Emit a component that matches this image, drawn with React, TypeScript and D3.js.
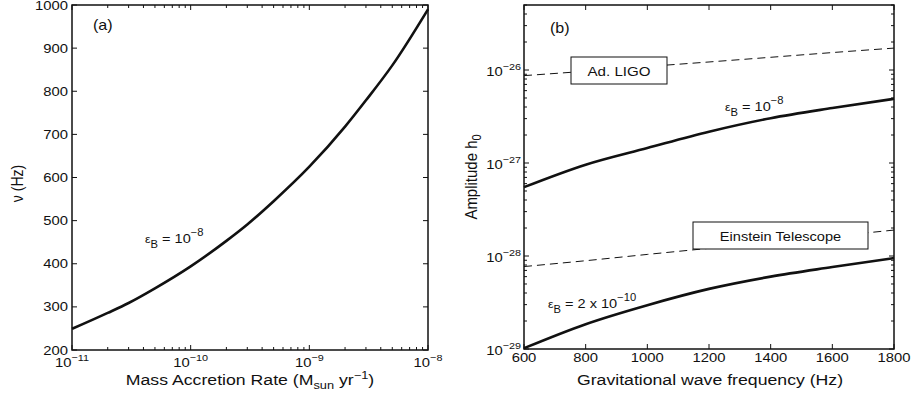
import type { ReactNode } from 'react'
import * as d3 from 'd3'

// (a) spin frequency vs mass accretion rate, eps_B = 1e-8
const massRate = [1e-11, 2e-11, 3e-11, 5e-11, 1e-10, 2e-10, 3e-10, 5e-10, 1e-9, 2e-9, 3e-9, 5e-9, 1e-8]
const spinFreq = [249, 286, 309, 343, 394, 453, 491, 545, 625, 718, 779, 860, 990]

// (b) amplitude vs GW frequency
const gwFreq = [600, 800, 1000, 1200, 1400, 1600, 1800]
const hHigh = [5.5e-28, 9.6e-28, 1.45e-27, 2.17e-27, 3.03e-27, 3.9e-27, 4.9e-27] // eps_B = 1e-8
const hLow = [1.02e-29, 1.85e-29, 2.96e-29, 4.43e-29, 6.0e-29, 7.6e-29, 9.5e-29] // eps_B = 2e-10
const ligo = [8.7e-27, 9.7e-27, 1.09e-26, 1.22e-26, 1.37e-26, 1.54e-26, 1.72e-26]
const einstein = [7.7e-29, 8.9e-29, 1.04e-28, 1.21e-28, 1.41e-28, 1.63e-28, 1.9e-28]

const leftXTicks = [-11, -10, -9, -8]
const leftYTicks = [200, 300, 400, 500, 600, 700, 800, 900, 1000]
const rightXTicks = [600, 800, 1000, 1200, 1400, 1600, 1800]
const rightYTicks = [-29, -28, -27, -26]

const FONT = '"Liberation Sans", Arial, Helvetica, sans-serif'
const INK = '#111'
const A = { l: 72, r: 428, t: 5, b: 350 }
const B = { l: 524, r: 894, t: 5, b: 349 }

// the original figure is a bit stretched sideways, so text gets a horizontal scale
function T({ x, y, sx = 1.14, size = 13, anchor = 'start', rot = false, children }:
  { x: number; y: number; sx?: number; size?: number; anchor?: string; rot?: boolean; children: ReactNode }) {
  return (
    <text
      transform={`translate(${x},${y}) scale(${sx},1)${rot ? ' rotate(-90)' : ''}`}
      textAnchor={anchor as any}
      fontSize={size}
      fill={INK}
    >
      {children}
    </text>
  )
}

function Pow({ x, y, exp, anchor = 'middle' }: { x: number; y: number; exp: string; anchor?: string }) {
  return (
    <T x={x} y={y} anchor={anchor}>
      10<tspan dy={-6} fontSize={9.5}>{exp}</tspan>
    </T>
  )
}

function Eps({ x, y, rest, exp }: { x: number; y: number; rest: string; exp: string }) {
  return (
    <T x={x} y={y} size={11} sx={1.12}>
      ε<tspan dy={5} fontSize={10}>B</tspan>
      <tspan dy={-5} fontSize={13}>{rest}</tspan>
      <tspan dy={-7} fontSize={10}>{exp}</tspan>
    </T>
  )
}

export default function App() {
  const xa = d3.scaleLog().domain([1e-11, 1e-8]).range([A.l, A.r])
  const ya = d3.scaleLinear().domain([200, 1000]).range([A.b, A.t])
  const xb = d3.scaleLinear().domain([600, 1800]).range([B.l, B.r])
  const yb = d3.scaleLog().domain([1e-29, 5e-26]).range([B.b, B.t])

  const lineA = d3.line<number>().x((_, i) => xa(massRate[i])).y(d => ya(d)).curve(d3.curveMonotoneX)
  const lineB = d3.line<number>().x((_, i) => xb(gwFreq[i])).y(d => yb(d)).curve(d3.curveMonotoneX)

  // minor log ticks
  const minorA: number[] = []
  for (let e = -11; e < -8; e++) for (let k = 2; k <= 9; k++) minorA.push(k * Math.pow(10, e))
  const minorB: number[] = []
  for (let e = -29; e <= -26; e++) for (let k = 2; k <= 9; k++) {
    const v = k * Math.pow(10, e)
    if (v <= 5e-26) minorB.push(v)
  }

  const major = 5
  const minor = 3

  return (
    <svg width={914} height={398} style={{ position: 'absolute', left: 0, top: 0, background: '#fff' }} fontFamily={FONT}>
      {/* ── panel (a) ── */}
      <g stroke={INK} strokeWidth={1}>
        {leftXTicks.map(e => (
          <g key={'ax' + e}>
            <line x1={xa(Math.pow(10, e))} x2={xa(Math.pow(10, e))} y1={A.b} y2={A.b - major} />
            <line x1={xa(Math.pow(10, e))} x2={xa(Math.pow(10, e))} y1={A.t} y2={A.t + major} />
          </g>
        ))}
        {minorA.map((v, i) => (
          <g key={'am' + i}>
            <line x1={xa(v)} x2={xa(v)} y1={A.b} y2={A.b - minor} />
            <line x1={xa(v)} x2={xa(v)} y1={A.t} y2={A.t + minor} />
          </g>
        ))}
        {leftYTicks.map(v => (
          <g key={'ay' + v}>
            <line x1={A.l} x2={A.l + major} y1={ya(v)} y2={ya(v)} />
            <line x1={A.r} x2={A.r - major} y1={ya(v)} y2={ya(v)} />
          </g>
        ))}
      </g>
      <path d={lineA(spinFreq) ?? ''} fill="none" stroke={INK} strokeWidth={2.6} />
      <rect x={A.l} y={A.t} width={A.r - A.l} height={A.b - A.t} fill="none" stroke={INK} strokeWidth={1.5} />
      {leftYTicks.map(v => (
        <T key={'ayl' + v} x={A.l - 4} y={ya(v) + 4.5} anchor="end">{v}</T>
      ))}
      {leftXTicks.map(e => (
        <Pow key={'axl' + e} x={xa(Math.pow(10, e))} y={367} exp={'−' + Math.abs(e)} />
      ))}
      <T x={250} y={385} size={14.5} sx={1.22} anchor="middle">
        Mass Accretion Rate (M<tspan dy={4} fontSize={10.5}>sun</tspan>
        <tspan dy={-4}> yr</tspan>
        <tspan dy={-6} fontSize={10.5}>−1</tspan>
        <tspan dy={6}>)</tspan>
      </T>
      <T x={23} y={(A.t + A.b) / 2 + 6} size={14} sx={1.15} anchor="middle" rot>ν (Hz)</T>
      <T x={93} y={30} size={14} sx={1.15}>(a)</T>
      <Eps x={145} y={243} rest=" = 10" exp="−8" />

      {/* ── panel (b) ── */}
      <g stroke={INK} strokeWidth={1}>
        {rightXTicks.map(v => (
          <g key={'bx' + v}>
            <line x1={xb(v)} x2={xb(v)} y1={B.b} y2={B.b - major} />
            <line x1={xb(v)} x2={xb(v)} y1={B.t} y2={B.t + major} />
          </g>
        ))}
        {rightYTicks.map(e => (
          <g key={'by' + e}>
            <line x1={B.l} x2={B.l + major} y1={yb(Math.pow(10, e))} y2={yb(Math.pow(10, e))} />
            <line x1={B.r} x2={B.r - major} y1={yb(Math.pow(10, e))} y2={yb(Math.pow(10, e))} />
          </g>
        ))}
        {minorB.map((v, i) => (
          <g key={'bm' + i}>
            <line x1={B.l} x2={B.l + minor} y1={yb(v)} y2={yb(v)} />
            <line x1={B.r} x2={B.r - minor} y1={yb(v)} y2={yb(v)} />
          </g>
        ))}
      </g>
      <path d={lineB(ligo) ?? ''} fill="none" stroke={INK} strokeWidth={1} strokeDasharray="8 5" />
      <path d={lineB(einstein) ?? ''} fill="none" stroke={INK} strokeWidth={1} strokeDasharray="8 5" />
      <path d={lineB(hHigh) ?? ''} fill="none" stroke={INK} strokeWidth={2.6} />
      <path d={lineB(hLow) ?? ''} fill="none" stroke={INK} strokeWidth={2.6} />
      <rect x={B.l} y={B.t} width={B.r - B.l} height={B.b - B.t} fill="none" stroke={INK} strokeWidth={1.5} />

      <rect x={571} y={57} width={96} height={27} fill="#fff" stroke={INK} strokeWidth={1} />
      <T x={619} y={75.5} size={13.5} sx={1.12} anchor="middle">Ad. LIGO</T>
      <rect x={693} y={222} width={175} height={27} fill="#fff" stroke={INK} strokeWidth={1} />
      <T x={780.5} y={240.5} size={13.5} sx={1.08} anchor="middle">Einstein Telescope</T>

      {rightXTicks.map(v => (
        <T key={'bxl' + v} x={xb(v)} y={362} anchor="middle">{v}</T>
      ))}
      {rightYTicks.map(e => (
        <Pow key={'byl' + e} x={521} y={yb(Math.pow(10, e)) + 6} exp={'−' + Math.abs(e)} anchor="end" />
      ))}
      <T x={710} y={385} size={14.5} sx={1.22} anchor="middle">Gravitational wave frequency (Hz)</T>
      <T x={477} y={(B.t + B.b) / 2} size={15} sx={1.12} anchor="middle" rot>
        Amplitude h<tspan dy={4} fontSize={11}>0</tspan>
      </T>
      <T x={550} y={33} size={14} sx={1.15}>(b)</T>
      <Eps x={725} y={111} rest=" = 10" exp="−8" />
      <Eps x={548} y={308} rest=" = 2 x 10" exp="−10" />
    </svg>
  )
}
